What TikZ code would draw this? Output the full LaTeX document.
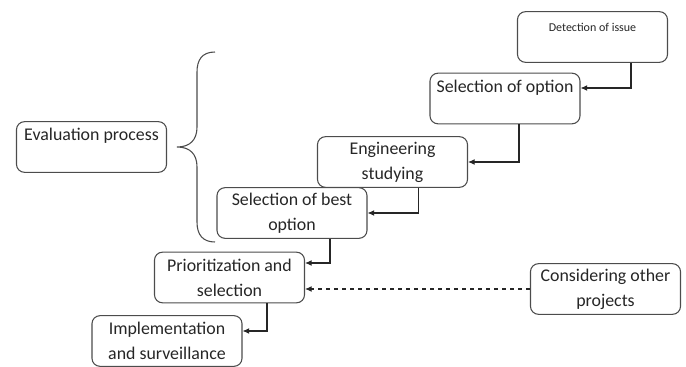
\documentclass[tikz,border=0pt]{standalone}
\usepackage{fontspec}
\setmainfont{Carlito}
\usepackage{tikz}
\usetikzlibrary{positioning, arrows.meta, calc}

\begin{document}
\begin{tikzpicture}[
		x=0.75pt, y=-0.75pt,
		stage/.style={rectangle, draw=black!70, line width=0.8pt, rounded corners=6pt, align=center, minimum width=112.5pt, minimum height=38pt, inner sep=2pt, text=black!85, font=\fontsize{13.4}{18.7}\selectfont},
		arrow/.style={-{Latex[length=5pt, width=4.5pt]}, line width=0.8pt, black!85},
		every node/.style={font=\fontsize{13.4}{18.7}\selectfont}
		]
		\useasboundingbox (0,0) rectangle (686,367);

		\node[stage, font=\fontsize{9}{11}\selectfont] (detect) at (592.5,37) {Detection of issue\\[3pt]~};
		\node[stage] (selopt) at (505,98.5) {Selection of option\\~};
		\node[stage] (eng) at (392.5,162) {Engineering\\studying};
		\node[stage] (best) at (292,213) {Selection of best\\option};
		\node[stage] (prior) at (229.5,277.5) {Prioritization and\\selection};
		\node[stage] (impl) at (167,341) {Implementation\\and surveillance};
		\node[stage] (other) at (605.5,289) {Considering other\\projects};
		\node[stage] (eval) at (91.5,147) {Evaluation process\\~};

		\draw[arrow] ($(detect.south)+(38.5,0)$) |- ($(selopt.east)+(0,-10.5)$);
		\draw[arrow] ($(selopt.south)+(14,0)$) |- (eng.east);
		\draw[arrow] ($(eng.south)+(26,0)$) |- (best.east);
		\draw[arrow] ($(best.south)+(38,0)$) |- ($(prior.east)+(0,-14.5)$);
		\draw[arrow] ($(prior.south)+(37.5,0)$) |- ($(impl.east)+(0,-10)$);
		\draw[arrow, dashed] (other.west) -- (other.west -| prior.east);

		\draw[line width=0.8pt, black!70] (215,52) .. controls (202,52) and (197,60) .. (197,72) -- (197,127) .. controls (197,140) and (190,147) .. (177,147) .. controls (190,147) and (197,154) .. (197,167) -- (197,222) .. controls (197,235) and (203,242) .. (215,242);
	\end{tikzpicture}
\end{document}
